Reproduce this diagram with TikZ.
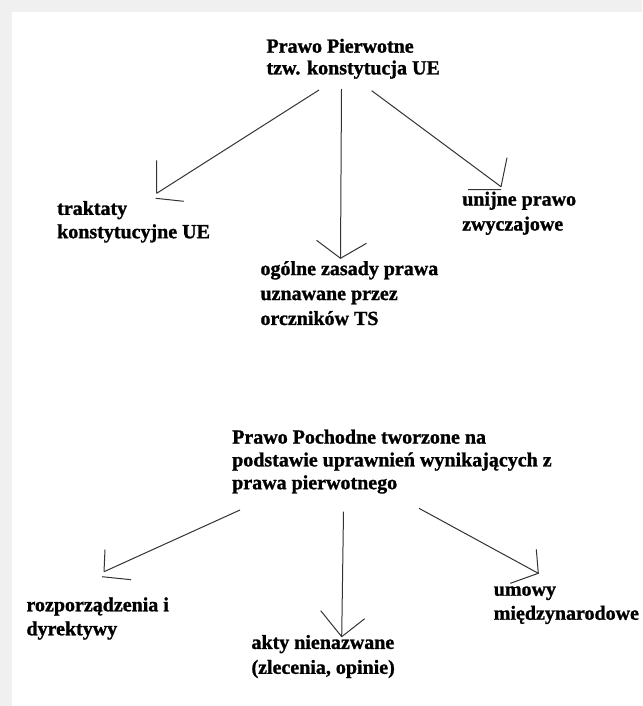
\documentclass[tikz,border=0pt]{standalone}
\usepackage{fontspec}
\setmainfont{Liberation Serif}[BoldFont={Liberation Serif Bold}, BoldFeatures={FakeBold=1.2}]
\usetikzlibrary{calc}
\tikzset{
	every node/.style={font=\fontsize{15}{18}\selectfont\bfseries},
	textnode/.style={anchor=north west, inner sep=0pt, align=left}
}

\begin{document}
\begin{tikzpicture}[x=0.75pt, y=-0.75pt, line width=0.75pt,
	pen/.style={draw=black!80}]
	% Frame
	\useasboundingbox (0,0) rectangle (642,706);
	\fill[black!6] (0,0) rectangle (642,706);
	\fill[white] (12,12) rectangle (642,706);

	% Primary law
	\node[textnode, font=\fontsize{15}{16.3}\selectfont\bfseries] (prim) at (266,38.3) {Prawo Pierwotne\\tzw. konstytucja UE};
	\node[textnode, font=\fontsize{15}{17.5}\selectfont\bfseries] (trakt) at (56.7,200.5) {traktaty\\konstytucyjne UE};
	\node[textnode, font=\fontsize{15}{18.7}\selectfont\bfseries] (zasady) at (260,260.7) {ogólne zasady prawa\\uznawane przez\\orczników TS};
	\node[textnode, font=\fontsize{15}{18.7}\selectfont\bfseries] (zwycz) at (461.7,191.2) {unijne prawo\\zwyczajowe};

	% Secondary law
	\node[textnode, font=\fontsize{15}{17.1}\selectfont\bfseries] (poch) at (231.7,429.2) {Prawo Pochodne tworzone na\\podstawie uprawnień wynikających z\\prawa pierwotnego};
	\node[textnode] (rozp) at (26,596.9) {rozporządzenia i\\dyrektywy};
	\node[textnode, font=\fontsize{15}{18.7}\selectfont\bfseries] (akty) at (251,634.5) {akty nienazwane\\(zlecenia, opinie)};
	\node[textnode] (umowy) at (493.3,585.8) {umowy\\międzynarodowe};

	% Arrow ends
	\coordinate (s1) at (319,90);
	\coordinate (t1) at (156.7,193.3);
	\coordinate (s2) at (341.5,89);
	\coordinate (t2) at (340.5,258.3);
	\coordinate (s3) at (371.7,90.7);
	\coordinate (t3) at (501,186.7);
	\coordinate (s4) at (240,510);
	\coordinate (t4) at (104,571.7);
	\coordinate (s5) at (343.5,511.7);
	\coordinate (t5) at (341.7,636.7);
	\coordinate (s6) at (419,508.3);
	\coordinate (t6) at (538.3,573.3);

	% Top arrows
	\draw[pen] (s1) -- (t1);
	\draw[pen] (s2) -- (t2);
	\draw[pen] (s3) -- (t3);
	\draw[pen] (t1) ++(0,-33) -- (t1) ++(-1,5) -- ++(28,3);
	\draw[pen] (t2) ++(-24,-18) -- (t2) -- ++(26,-15);
	\draw[pen] (t3) ++(6,-29) -- (t3) ++(-33,3) -- ++(33,0);

	% Bottom arrows
	\draw[pen] (s4) -- (t4);
	\draw[pen] (s5) -- (t5);
	\draw[pen] (s6) -- (t6);
	\draw[pen] (t4) ++(1,-22) -- (t4) ++(-2,5) -- ++(29,3);
	\draw[pen] (t5) ++(-21,-26) -- (t5) -- ++(23,-18);
	\draw[pen] (t6) ++(-2,-24) -- (t6) -- ++(-28,10);
\end{tikzpicture}
\end{document}
